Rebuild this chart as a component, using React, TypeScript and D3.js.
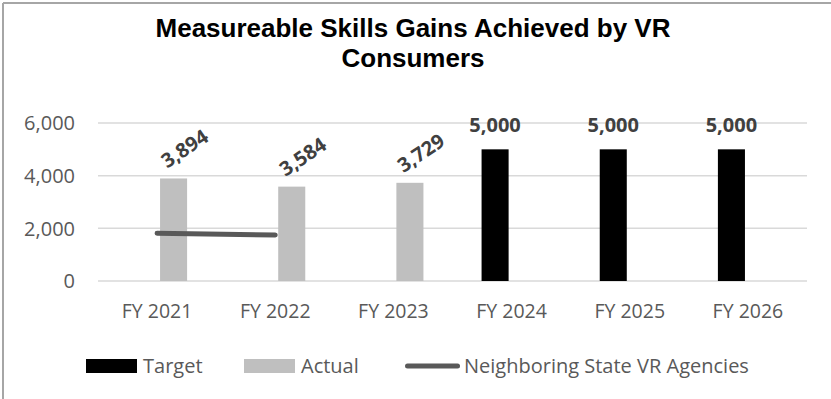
import React from "react";
import * as d3 from "d3";

const categories = ["FY 2021", "FY 2022", "FY 2023", "FY 2024", "FY 2025", "FY 2026"];
const targetValues: (number | null)[] = [null, null, null, 5000, 5000, 5000];
const actualValues: (number | null)[] = [3894, 3584, 3729, null, null, null];
const neighborValues: (number | null)[] = [1810, 1750, null, null, null, null];
const yTicks = [0, 2000, 4000, 6000];
const seriesNames = ["Target", "Actual"];
const legendLabels = ["Target", "Actual", "Neighboring State VR Agencies"];

const W = 831;
const H = 399;
const plot = { left: 98, right: 807, top: 123, bottom: 281 };
const COLORS = { Target: "#000000", Actual: "#bfbfbf", line: "#595959" };
const FONT = "'Open Sans', 'Noto Sans', sans-serif";
const fmt = d3.format(",");

export default function App() {
  const x0 = d3.scaleBand<string>().domain(categories).range([plot.left, plot.right]).padding(0);
  const bw = x0.bandwidth();
  const half = bw * 0.254;
  const x1 = d3
    .scaleBand<string>()
    .domain(seriesNames)
    .range([bw / 2 - half, bw / 2 + half])
    .paddingInner(0.18);
  const y = d3.scaleLinear().domain([0, 6000]).range([plot.bottom, plot.top]);

  const lineGen = d3
    .line<number | null>()
    .defined((d) => d != null)
    .x((_, i) => (x0(categories[i]) as number) + bw / 2)
    .y((d) => y(d as number));

  const legendX = [86, 244, 405];

  return (
    <svg
      width={W}
      height={H}
      style={{ position: "absolute", left: 0, top: 0, background: "#fff" }}
    >
      <rect x={0} y={0} width={W} height={H} fill="#fff" />
      <line x1={3} y1={3} x2={W} y2={3} stroke="#a6a6a6" strokeWidth={2} />
      <line x1={3} y1={3} x2={3} y2={H} stroke="#a6a6a6" strokeWidth={2} />

      <text
        x={413}
        y={36.7}
        textAnchor="middle"
        fontFamily="'Liberation Sans', Arial, sans-serif"
        fontWeight="bold"
        fontSize={26}
        fill="#000"
      >
        Measureable Skills Gains Achieved by VR
      </text>
      <text
        x={413}
        y={66.7}
        textAnchor="middle"
        fontFamily="'Liberation Sans', Arial, sans-serif"
        fontWeight="bold"
        fontSize={26}
        fill="#000"
      >
        Consumers
      </text>

      {yTicks.map((t) => (
        <g key={t}>
          <line
            x1={plot.left}
            x2={plot.right}
            y1={y(t)}
            y2={y(t)}
            stroke="#d9d9d9"
            strokeWidth={1.5}
          />
          <text
            x={75}
            y={y(t)}
            dy="0.36em"
            textAnchor="end"
            fontFamily={FONT}
            fontSize={20}
            fill="#595959"
          >
            {fmt(t)}
          </text>
        </g>
      ))}

      {categories.map((c, i) => (
        <text
          key={c}
          x={(x0(c) as number) + bw / 2}
          y={318}
          textAnchor="middle"
          fontFamily={FONT}
          fontSize={19.5}
          fill="#595959"
        >
          {c}
        </text>
      ))}

      {categories.map((c, i) => {
        const tv = targetValues[i];
        const av = actualValues[i];
        const bx = x0(c) as number;
        return (
          <g key={"b" + c}>
            {tv != null && (
              <g>
                <rect
                  x={bx + (x1("Target") as number)}
                  y={y(tv)}
                  width={x1.bandwidth()}
                  height={y(0) - y(tv)}
                  fill={COLORS.Target}
                />
                <text
                  x={bx + (x1("Target") as number) + x1.bandwidth() / 2}
                  y={y(tv) - 17.6}
                  textAnchor="middle"
                  fontFamily={FONT}
                  fontWeight="bold"
                  fontSize={20}
                  fill="#404040"
                >
                  {fmt(tv)}
                </text>
              </g>
            )}
            {av != null && (
              <g>
                <rect
                  x={bx + (x1("Actual") as number)}
                  y={y(av)}
                  width={x1.bandwidth()}
                  height={y(0) - y(av)}
                  fill={COLORS.Actual}
                />
                <text
                  transform={`translate(${bx + (x1("Actual") as number) + x1.bandwidth() / 2 + 11},${y(av) - 30}) rotate(-34)`}
                  dy="0.36em"
                  textAnchor="middle"
                  fontFamily={FONT}
                  fontWeight="bold"
                  fontSize={20}
                  fill="#404040"
                >
                  {fmt(av)}
                </text>
              </g>
            )}
          </g>
        );
      })}

      <path
        d={lineGen(neighborValues) || ""}
        fill="none"
        stroke={COLORS.line}
        strokeWidth={5}
        strokeLinecap="round"
      />

      <g>
        <rect x={legendX[0]} y={359} width={51} height={14} fill={COLORS.Target} />
        <text x={legendX[0] + 57} y={373} fontFamily={FONT} fontSize={20} fill="#595959">
          {legendLabels[0]}
        </text>
        <rect x={legendX[1]} y={359} width={51} height={14} fill={COLORS.Actual} />
        <text x={legendX[1] + 57} y={373} fontFamily={FONT} fontSize={20} fill="#595959">
          {legendLabels[1]}
        </text>
        <line
          x1={legendX[2] + 2.5}
          x2={legendX[2] + 52.5}
          y1={366}
          y2={366}
          stroke={COLORS.line}
          strokeWidth={5}
          strokeLinecap="round"
        />
        <text x={legendX[2] + 59} y={373} fontFamily={FONT} fontSize={20} fill="#595959">
          {legendLabels[2]}
        </text>
      </g>
    </svg>
  );
}
